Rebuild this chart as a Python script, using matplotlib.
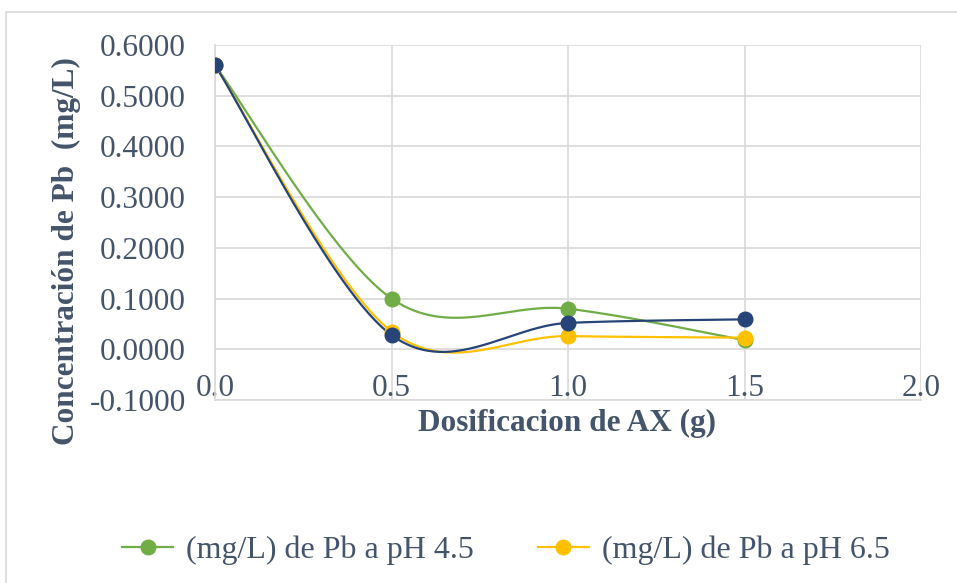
import numpy as np
import matplotlib
matplotlib.use("Agg")
import matplotlib.pyplot as plt
from matplotlib.patches import Rectangle
from matplotlib.ticker import FormatStrFormatter

# ---- data ----
dosis = [0.0, 0.5, 1.0, 1.5]
pb_ph45 = [0.560, 0.100, 0.080, 0.018]
pb_ph65 = [0.560, 0.035, 0.026, 0.023]
pb_ph3 = [0.560, 0.028, 0.052, 0.059]
legend_labels = ["(mg/L) de Pb a pH 4.5", "(mg/L) de Pb a pH 6.5"]
xlabel = "Dosificacion de AX (g)"
ylabel = "Concentración de Pb  (mg/L)"

TXT = "#44546A"
GRID = "#D9D9D9"
plt.rcParams['font.family'] = ['Liberation Serif', 'DejaVu Serif']


def smooth(xs, ys, n=60):
    """Excel-like smoothed line (cardinal Bezier through the points)."""
    P = np.column_stack([xs, ys]).astype(float)
    m = len(P)
    out = []
    for i in range(m - 1):
        p0 = P[i - 1] if i > 0 else P[i]
        p1, p2 = P[i], P[i + 1]
        p3 = P[i + 2] if i + 2 < m else P[i + 1]
        c1 = p1 + (p2 - p0) / 6.0
        c2 = p2 - (p3 - p1) / 6.0
        t = np.linspace(0, 1, n)[:, None]
        seg = ((1 - t) ** 3) * p1 + 3 * ((1 - t) ** 2) * t * c1 + 3 * (1 - t) * t ** 2 * c2 + t ** 3 * p2
        out.append(seg if i == 0 else seg[1:])
    c = np.vstack(out)
    return c[:, 0], c[:, 1]


fig = plt.figure(figsize=(9.57, 5.83), dpi=100)
W, H = 957, 583
ax = fig.add_axes([215 / W, 1 - 400 / H, (921 - 215) / W, (400 - 45) / H])

# outer chart border
fig.patches.append(Rectangle((6 / W, -0.1), 1.2, 1 - 12 / H + 0.1, transform=fig.transFigure,
                             fill=False, edgecolor=GRID, lw=1.2))

series = [(pb_ph45, "#70AD47", legend_labels[0]),
          (pb_ph65, "#FFC000", legend_labels[1]),
          (pb_ph3, "#264478", None)]
handles = []
for ys, col, lab in series:
    sx, sy = smooth(dosis, ys)
    ax.plot(sx, sy, color=col, lw=1.6, zorder=3)
    ax.plot(dosis, ys, 'o', color=col, ms=10.5, zorder=4)
    if lab:
        h, = ax.plot([], [], '-o', color=col, lw=1.6, ms=10.5, label=lab)
        handles.append(h)

ax.set_xlim(0, 2.0)
ax.set_ylim(-0.1, 0.6)
ax.set_xticks([0.0, 0.5, 1.0, 1.5, 2.0])
ax.set_yticks(np.arange(-0.1, 0.61, 0.1))
ax.yaxis.set_major_formatter(FormatStrFormatter('%.4f'))
ax.xaxis.set_major_formatter(FormatStrFormatter('%.1f'))
ax.grid(True, color=GRID, lw=1.2, zorder=0)
ax.set_axisbelow(True)
for s in ['top', 'right']:
    ax.spines[s].set_visible(False)
for s in ['left', 'bottom']:
    ax.spines[s].set_color(GRID)
    ax.spines[s].set_linewidth(1.2)
ax.tick_params(axis='both', length=0, labelsize=22.5, labelcolor=TXT)
ax.tick_params(axis='y', pad=21)
ax.tick_params(axis='x', pad=-19)

fig.text(567 / W, 1 - 423 / H, xlabel, ha='center', va='center', fontsize=22.5,
         fontweight='bold', color=TXT)
fig.text(66 / W, 1 - 251 / H, ylabel, ha='center', va='center', fontsize=22.5,
         fontweight='bold', color=TXT, rotation=90)

fig.legend(handles=handles, loc='center', bbox_to_anchor=(506 / W, 1 - 550 / H), ncol=2,
           frameon=False, fontsize=23, labelcolor=TXT, handlelength=1.6,
           columnspacing=2.0, handletextpad=0.4)

fig.savefig("out.png", dpi=100)
